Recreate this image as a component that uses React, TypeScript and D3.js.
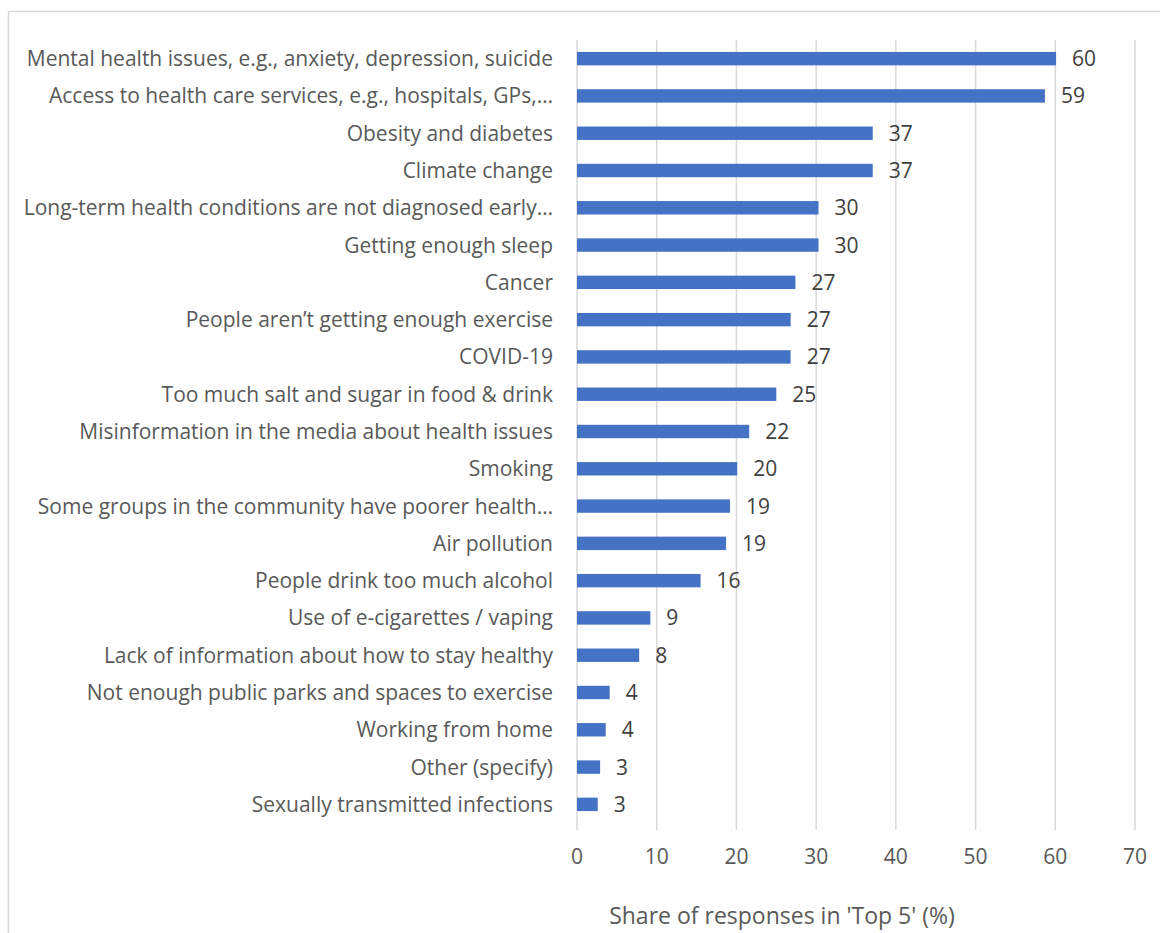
import React from "react";
import * as d3 from "d3";

const categories = [
  "Mental health issues, e.g., anxiety, depression, suicide",
  "Access to health care services, e.g., hospitals, GPs,…",
  "Obesity and diabetes",
  "Climate change",
  "Long-term health conditions are not diagnosed early…",
  "Getting enough sleep",
  "Cancer",
  "People aren’t getting enough exercise",
  "COVID-19",
  "Too much salt and sugar in food & drink",
  "Misinformation in the media about health issues",
  "Smoking",
  "Some groups in the community have poorer health…",
  "Air pollution",
  "People drink too much alcohol",
  "Use of e-cigarettes / vaping",
  "Lack of information about how to stay healthy",
  "Not enough public parks and spaces to exercise",
  "Working from home",
  "Other (specify)",
  "Sexually transmitted infections",
];

const values = [60.1, 58.7, 37.1, 37.1, 30.3, 30.3, 27.4, 26.8, 26.8, 25.0, 21.6, 20.1, 19.2, 18.7, 15.5, 9.2, 7.8, 4.1, 3.6, 2.9, 2.6];

const xTicks = [0, 10, 20, 30, 40, 50, 60, 70];

const axisTitle = "Share of responses in 'Top 5' (%)";

const W = 1160;
const H = 933;
const plotLeft = 577;
const plotRight = 1135;
const plotTop = 40;
const plotBottom = 823;
const FONT = "'Open Sans', 'Noto Sans', sans-serif";
const TEXT = "#595959";

export default function App() {
  const x = d3.scaleLinear().domain([0, 70]).range([plotLeft, plotRight]);
  const y = d3
    .scaleBand<string>()
    .domain(categories)
    .range([plotTop, plotBottom])
    .paddingInner(0.64)
    .paddingOuter(0.32);
  const fmt = d3.format(".0f");

  return (
    <svg
      width={W}
      height={H}
      style={{ position: "absolute", left: 0, top: 0, background: "#fff" }}
    >
      <rect x={8.5} y={11.5} width={W} height={H} fill="#fff" stroke="#d9d9d9" strokeWidth={1.5} />
      {xTicks.map((t) => (
        <line
          key={"g" + t}
          x1={x(t)}
          x2={x(t)}
          y1={plotTop}
          y2={plotBottom + 7}
          stroke="#d9d9d9"
          strokeWidth={1.5}
        />
      ))}
      {categories.map((c, i) => (
        <g key={c}>
          <rect
            x={x(0)}
            y={y(c)!}
            width={x(values[i]) - x(0)}
            height={y.bandwidth()}
            fill="#4472C4"
          />
          <text
            x={x(values[i]) + 16}
            y={y(c)! + y.bandwidth() / 2}
            dy="0.36em"
            fontFamily={FONT}
            fontSize={21}
            fill="#404040"
          >
            {fmt(values[i])}
          </text>
          <text
            x={553}
            y={y(c)! + y.bandwidth() / 2}
            dy="0.36em"
            textAnchor="end"
            fontFamily={FONT}
            fontSize={21}
            fill={TEXT}
          >
            {c}
          </text>
        </g>
      ))}
      {xTicks.map((t) => (
        <text
          key={"t" + t}
          x={x(t)}
          y={856}
          dy="0.36em"
          textAnchor="middle"
          fontFamily={FONT}
          fontSize={21}
          fill={TEXT}
        >
          {t}
        </text>
      ))}
      <text
        x={782}
        y={916}
        dy="0.36em"
        textAnchor="middle"
        fontFamily={FONT}
        fontSize={23}
        fill={TEXT}
      >
        {axisTitle}
      </text>
    </svg>
  );
}
